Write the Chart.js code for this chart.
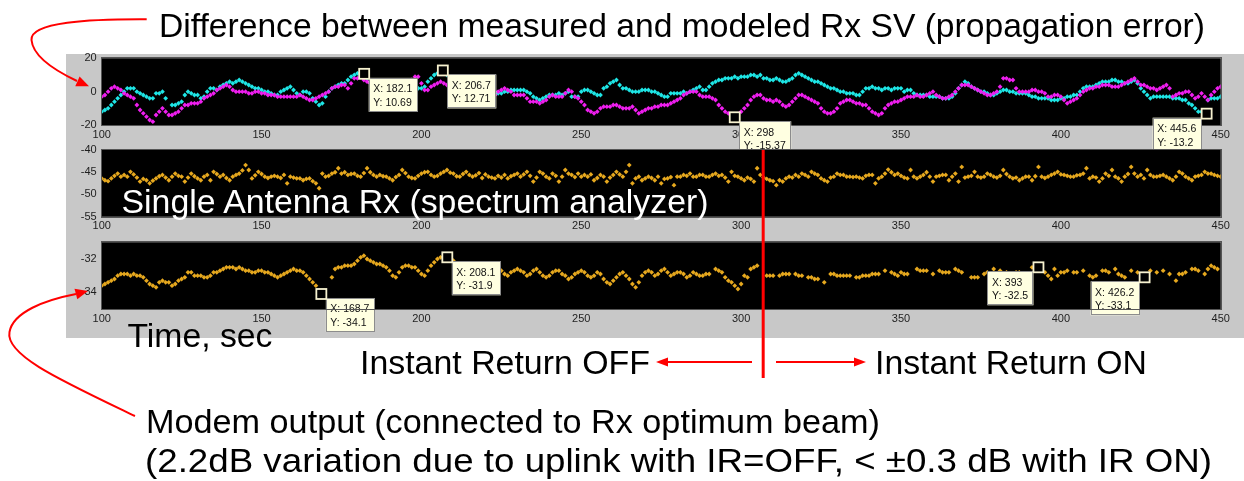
<!DOCTYPE html>
<html>
<head>
<meta charset="utf-8">
<title>Propagation error / Rx level vs time</title>
<script src="https://cdn.jsdelivr.net/npm/chart.js@4.4.0/dist/chart.umd.min.js"></script>
<style>
  html, body { margin: 0; padding: 0; background: #fff; }
  #stage { position: relative; width: 1244px; height: 481px; overflow: hidden; background: #fff; }
  #panel { position: absolute; left: 66px; top: 54px; width: 1178px; height: 284px; background: #c8c8c8; }
  #stage canvas, #stage svg { position: absolute; left: 0; top: 0; }
</style>
</head>
<body>
<div id="stage">
  <div id="panel"></div>
  <canvas id="errChart" width="1244" height="481" style="width:1244px;height:481px"></canvas>
  <canvas id="specChart" width="1244" height="481" style="width:1244px;height:481px"></canvas>
  <canvas id="modemChart" width="1244" height="481" style="width:1244px;height:481px"></canvas>
  <svg id="notes" width="1244" height="481" viewBox="0 0 1244 481">
    <g font-family="'Liberation Sans', Arial, Helvetica, sans-serif" font-size="33.5" fill="#000">
      <text x="159" y="36.7" textLength="1046" lengthAdjust="spacingAndGlyphs">Difference between measured and modeled Rx SV (propagation error)</text>
      <text x="121.5" y="212.5" fill="#fff" textLength="587" lengthAdjust="spacingAndGlyphs">Single Antenna Rx (spectrum analyzer)</text>
      <text x="127.5" y="346.5" textLength="145" lengthAdjust="spacingAndGlyphs">Time, sec</text>
      <text x="360" y="374" textLength="290" lengthAdjust="spacingAndGlyphs">Instant Return OFF</text>
      <text x="875" y="374" textLength="272" lengthAdjust="spacingAndGlyphs">Instant Return ON</text>
      <text x="146" y="433" textLength="734" lengthAdjust="spacingAndGlyphs">Modem output (connected to Rx optimum beam)</text>
      <text x="145" y="472" textLength="1067" lengthAdjust="spacingAndGlyphs">(2.2dB variation due to uplink with IR=OFF, &lt; ±0.3 dB with IR ON)</text>
    </g>
    <g stroke="#ff0000" fill="none" stroke-width="2">
      <path d="M146.7,19.3 C90,19 30,22 31.5,40 C33,58 58,72 77,81"/>
      <path d="M135,416 C60,380 5,355 9.5,332 C13,312 45,300 76,294"/>
      <line id="irLine" x1="763" y1="150" x2="763" y2="378" stroke-width="3"/>
      <line x1="752" y1="362" x2="667" y2="362"/>
      <line x1="776" y1="362" x2="855" y2="362"/>
    </g>
    <g fill="#ff0000">
      <polygon points="89,86.2 75.3,86.3 79.6,76.4"/>
      <polygon points="88,291 77.3,299.2 74.5,288.8"/>
      <polygon points="656,362 668,357.5 668,366.5"/>
      <polygon points="866,362 854,357.5 854,366.5"/>
    </g>
  </svg>
</div>
<script>
// ---- time axis -------------------------------------------------------
const timeTicks = [100, 150, 200, 250, 300, 350, 400, 450];
const T_START = 100;          // first sample, s (one sample per second)
const IR_ON_TIME = 306.9;     // Instant Return switched on, s

// ---- propagation error, dB (measured minus modeled Rx SV) --------------
const errCyan = [
  -12, -11, -10, -8, -6, -4, -2, 0, 2, 2,
  2, 0, -1, -2, -3, -4, -4, -1, -1, 0,
  -4, null, -8, -8, -7, -6, -2, 0, -1, -2,
  -2, -4, -3, 0, 2, 2, 1, 3, 4, 5,
  6, 5, 6, 7, 6, 5, 4, 3, 2, 2,
  1, 0, 0, -1, -2, -2, 0, 1, 2, 3,
  1, -1, -2, 0, 0, -1, -4, -6, -8, -7,
  -3, 0, 2, 3, 4, 5, 5, 7, 9, 10,
  11, 10, 11, 8, 6, 5, 4, 3, 2, 2,
  1, 1, 0, 0, 1, 1, 2, 2, 2, 2,
  2, 3, 6, 8, 10, 11, 12, 12, 10, 7,
  5, 4, 3, 2, 1, 0, 0, 0, 1, 0,
  0, -1, -1, 0, -1, -1, 0, 0, 1, 1,
  1, 1, 1, 0, -1, -3, -4, -5, -4, -3,
  -2, -2, -2, -1, -2, -1, 0, -3, -3, -3,
  0, 1, 1, 0, -1, -2, -2, 2, 3, 5,
  6, 7, 4, 2, 2, 1, 0, 0, 0, 1,
  1, 1, 0, 0, -1, -2, -3, -3, -1, -1,
  -1, -1, 0, -1, 0, 1, 2, 3, 1, 1,
  3, 5, 6, 7, 7, 8, 8, 8, 9, 8,
  9, 9, 9, 10, 10, 9, 10, 8, 8, 7,
  7, 8, 7, 6, 6, 7, 8, 10, 11, 10,
  9, 8, 7, 6, 6, 5, 4, 3, 2, 2,
  1, 0, 0, -1, -1, -1, -2, -2, 0, 2,
  2, 3, 2, 2, 1, 2, 2, 1, 2, 2,
  2, 0, 1, 1, -1, -2, -2, -2, -2, -3,
  -3, -3, -3, -4, -4, -4, -3, -1, 2, 4,
  6, 5, 3, 2, 1, 0, 0, -1, -2, -2,
  -1, 0, 1, 1, 0, 0, -1, -1, -1, -1,
  -2, -3, -3, -4, -4, -4, -4, -5, -5, -5,
  -4, -4, -3, -3, -2, -2, 0, 2, 3, 3,
  3, 4, 5, 6, 6, 6, 7, 7, 6, 6,
  5, 5, 6, 7, 5, 2, 0, -2, -4, -3,
  -3, -3, -3, -3, -3, -4, -4, -4, -5, -5,
  -7, -8, -10, -12, -12, -13, -5, -4, -4, -4,
  -3
];
const errMagenta = [
  -3, -2, 0, 2, 3, 2, 1, -1, -2, -3,
  -4, -8, -11, -13, -15, -17, -18, -14, -12, -10,
  -12, -14, -14, -13, -12, -10, -8, -8, -7, -7,
  -7, -6, -4, -3, -2, -1, 1, 2, 3, 4,
  3, 1, 0, 0, 0, 0, -1, -1, 0, 0,
  -1, -1, -2, -2, -2, -3, -3, -3, -3, -3,
  -3, -3, -2, -3, -4, -5, -5, -4, -3, -2,
  -1, 0, 2, 3, 3, 4, 4, 2, 5, 8,
  8, 9, 7, 6, 5, 4, 3, 2, 2, 1,
  1, 0, 0, 1, 2, 3, 5, 7, 9, 9,
  5, 1, 1, 3, 4, 5, 6, 5, 4, 3,
  2, 1, 0, -1, -1, -2, -2, -2, -1, -2,
  -2, -3, -5, -2, 0, 1, 2, 1, 0, -2,
  -2, -2, -2, -4, -6, -6, -6, -7, -6, -5,
  -3, -2, -3, -3, -3, -1, 1, 0, -3, -4,
  -6, -8, -11, -12, -13, -12, -10, -9, -9, -9,
  -8, -8, -9, -10, -10, -10, -9, -11, -13, -12,
  -11, -10, -10, -9, -9, -8, -8, -8, -7, -6,
  -5, -4, -2, -1, 0, 0, 0, -2, -3, -3,
  -3, -4, -5, -8, -10, -12, -13, -14, null, -14,
  -12, -10, -8, -5, -3, -2, -2, -4, -5, -5,
  -6, -5, -6, -8, -9, -8, -6, -4, -2, -2,
  -3, -4, -5, -6, -7, -10, -12, -13, -13, -12,
  -10, -7, -6, -5, -5, -6, -7, -7, -8, -8,
  -10, -12, -13, -14, -13, -10, -8, -7, -6, -6,
  -5, -4, -3, -3, -3, -2, -3, -3, -2, -1,
  0, -2, -3, -4, -4, -3, -2, 0, 2, 4,
  4, 4, 3, 2, 1, 0, -1, -2, -2, -1,
  0, 3, 8, 8, 7, 7, 2, 0, 0, 0,
  0, 1, 1, 0, 0, -1, -3, -3, -2, -2,
  -3, -5, -7, -6, -5, -4, -2, 0, 1, 2,
  2, 3, 3, 4, 4, 4, 3, 3, 3, 4,
  5, 6, 7, 8, 6, 4, 4, 3, 2, 2,
  1, 2, 3, 4, 2, -3, -2, -1, -1, 0,
  0, -2, -4, -3, -1, -3, -5, -2, 0, 2,
  3
];
// data tips on the error panel
const errTipX = [182.1, 206.7, 298, 445.6];
const errTipY = [10.69, 12.71, -15.37, -13.2];
const errTipSeries = ['cyan', 'cyan', 'magenta', 'cyan'];

// ---- single antenna Rx level (spectrum analyzer), dBm ---------------
const specRx = [
  -46.4, -46.8, -47.0, -46.4, -45.8, -45.3, -46.0, -45.6, -46.0, -44.9,
  -45.5, -46.2, -47.1, -46.5, -46.8, -47.5, -46.9, -46.4, -45.9, -45.6,
  -46.2, -46.8, -46.0, -45.3, -45.8, -46.0, -47.1, -46.2, -45.3, -45.9,
  -46.4, -46.8, -46.0, -45.6, -46.8, -44.9, -45.4, -46.0, -45.6, -46.3,
  -46.8, -46.0, -45.6, -45.3, -44.6, -43.4, -44.5, -46.4, -45.7, -44.9,
  -45.4, -46.0, -46.3, -46.0, -45.8, -46.0, -46.3, -45.6, -47.5, -46.0,
  -46.2, -46.4, -46.4, -46.8, -46.5, -46.4, -47.0, -47.5, -48.6, -45.3,
  -46.0, -45.8, -45.3, -45.0, -44.1, -45.3, -45.0, -45.6, -45.4, -45.3,
  -45.8, -46.0, -45.2, -44.1, -45.0, -45.6, -46.0, -45.6, -45.9, -46.0,
  -46.4, -46.8, -46.1, -45.6, -44.5, -45.2, -46.0, -46.3, -46.4, -45.8,
  -45.3, -45.0, -44.9, -45.6, -46.0, -45.8, -45.3, -44.9, -44.5, -45.1,
  -45.3, -45.9, -46.0, -45.4, -44.9, -45.6, -46.0, -45.7, -45.2, -46.3,
  -45.5, -46.0, -46.2, -46.4, -45.8, -46.2, -45.6, -46.4, -45.9, -45.6,
  -45.3, -46.0, -45.5, -44.9, -45.8, -47.1, -46.2, -44.9, -45.3, -46.0,
  -46.4, -45.3, -45.8, -47.1, -46.0, -44.5, -45.3, -45.6, -46.1, -45.3,
  -46.0, -45.6, -46.0, -45.5, -46.8, -46.3, -45.6, -46.0, -47.1, -46.2,
  -45.6, -44.9, -45.5, -46.0, -44.9, -43.4, -47.5, -46.4, -46.0, -46.8,
  -46.4, -46.0, -46.3, -46.8, -46.0, -47.5, -46.5, -46.4, -46.1, -47.9,
  -46.0, -46.0, -45.6, -45.8, -45.3, -46.0, -46.0, -45.6, -45.6, -46.0,
  -46.0, -45.6, -45.3, -45.8, -45.6, -46.2, -47.1, -44.9, -45.8, -46.0,
  -46.4, -46.8, -46.2, -46.5, -47.1, -44.1, -45.6, -46.2, -46.5, -46.8,
  -47.0, -47.9, -46.8, -47.1, -46.4, -46.0, -46.2, -45.6, -46.0, -45.3,
  -45.6, -46.0, -44.9, -45.3, -45.6, -46.4, -46.8, -47.1, -46.2, -46.0,
  -45.3, -45.6, -45.6, -46.0, -46.0, -46.1, -46.0, -46.2, -46.4, -45.8,
  -45.6, -45.6, -47.5, -46.4, -46.0, -45.3, -44.4, -45.0, -45.6, -45.3,
  -45.8, -46.2, -46.4, -44.5, -46.0, -46.4, -46.0, -45.6, -45.0, -46.0,
  -47.1, -46.0, -45.8, -45.6, -45.6, -46.8, -46.0, -45.3, -47.1, -43.8,
  -46.2, -46.0, -45.8, -44.9, -46.0, -46.2, -46.0, -45.3, -45.6, -46.0,
  -46.2, -45.8, -44.5, -45.4, -46.0, -46.4, -46.2, -46.8, -46.4, -46.0,
  -46.0, -46.8, -45.9, -43.8, -46.0, -46.3, -46.0, -45.6, -45.3, -44.9,
  -45.5, -45.6, -45.8, -46.0, -46.0, -45.7, -45.6, -45.3, -44.1, -46.4,
  -46.0, -46.2, -47.1, -46.4, -45.3, -45.8, -44.5, -46.0, -46.4, -47.1,
  -46.0, -45.4, -43.8, -45.3, -46.0, -45.6, -46.4, -44.5, -45.6, -46.0,
  -46.0, -45.8, -45.6, -46.0, -46.4, -46.8, -46.0, -44.9, -45.3, -46.0,
  -46.4, -46.8, -46.0, -45.8, -45.6, -44.9, -45.3, -45.3, -45.6, -45.8,
  -46.0
];

// ---- modem output Rx level, dB ---------------------------------------
const modemRx = [
  -33.6, -33.5, -33.4, -33.3, -33.2, -33.0, -32.9, -32.9, -32.9, -33.0,
  -32.9, -33.0, -33.0, -33.1, -33.3, -33.5, -33.6, -33.7, -33.4, -33.3,
  -33.4, -33.4, -33.6, -33.5, -33.3, -33.2, -33.1, -32.8, -32.8, -33.0,
  -33.0, -33.0, -33.1, -33.1, -33.0, -32.8, -32.8, -32.7, -32.6, -32.5,
  -32.5, -32.5, -32.6, -32.5, -32.6, -32.7, -32.7, -32.8, -32.8, -32.7,
  -32.7, -32.8, -32.8, -32.9, -33.0, -33.1, -33.0, -32.9, -32.8, -32.7,
  -32.6, -32.7, -32.7, -32.8, -33.0, -33.2, -33.4, -33.6, -33.9, null,
  null, null, -33.1, -32.6, -32.5, -32.5, -32.4, -32.4, -32.4, -32.3,
  -32.1, -31.9, -31.8, -32.0, -32.1, -32.2, -32.3, -32.3, -32.4, -32.5,
  -32.7, -33.0, -33.1, -32.8, -32.5, -32.4, -32.4, -32.5, -32.5, -32.7,
  -32.9, -33.0, -32.7, -32.4, -32.2, -32.0, -31.9, -31.9, null, -32.0,
  -32.1, -32.3, -32.5, -32.6, -32.7, -32.8, -32.8, -32.7, -32.9, -33.0,
  -32.9, -32.8, -32.7, -32.6, -32.6, -32.7, -32.9, -33.0, -32.8, -32.7,
  -32.6, -32.7, -32.8, -33.0, -32.9, -32.7, -32.6, -32.8, -33.0, -33.1,
  -33.0, -32.8, -32.7, -32.7, -32.9, -33.0, -33.2, -33.1, -32.9, -32.8,
  -32.7, -32.8, -33.0, -33.1, -33.0, -32.8, -32.9, -33.2, -33.4, -33.5,
  -33.3, -33.1, -32.9, -32.8, -33.0, -33.2, -33.5, -33.7, -33.4, -33.0,
  -32.8, -32.7, -32.8, -33.0, -32.9, -32.7, -32.6, -32.8, -33.0, -32.9,
  -32.8, -32.8, -32.9, -33.1, -33.0, -32.8, -32.9, -33.0, -33.0, -32.9,
  -32.9, null, -32.6, -32.7, -32.8, -33.1, -33.3, -33.4, -33.6, -33.8,
  -33.5, -33.0, -33.1, -32.6, -32.5, -32.4, null, null, -33.0, -33.0,
  -33.0, null, -33.0, -32.9, -32.9, -32.9, null, -32.9, -33.0, -33.0,
  null, -33.1, -33.1, -33.2, -33.2, null, -33.4, null, -32.9, -32.9,
  -33.0, -33.0, -33.0, -33.0, -33.0, null, -33.1, -33.1, -33.0, -33.0,
  -33.0, -32.9, -32.9, -32.9, null, -32.7, null, -32.8, -32.9, -33.0,
  -32.8, -32.9, -32.9, null, null, -32.6, -32.7, -32.7, -32.7, null,
  -32.9, null, -32.7, -32.8, -32.8, -32.8, null, -32.6, -32.7, -32.8,
  null, null, -33.1, -33.1, -33.1, null, -32.9, -32.8, null, -32.6,
  null, -32.7, null, -32.8, null, null, -32.8, -32.8, -32.9, null,
  null, -32.5, null, null, -32.6, -32.8, -33.0, -33.2, -32.6, -33.0,
  -32.8, -32.8, -32.7, null, -32.8, -32.8, null, -32.7, null, -33.0,
  -33.1, -33.0, null, -32.7, -32.7, -32.8, null, -32.6, -32.9, -33.0,
  -33.1, null, -32.7, null, -32.8, null, -33.0, null, -32.7, null,
  -32.8, null, -32.7, null, -32.9, null, -33.3, -32.9, -32.9, -32.8,
  null, -32.6, -32.6, -32.7, null, -32.9, -32.6, -32.4, -32.5, -32.6,
  null
];
// data tips on the modem panel
const modemTipX = [168.7, 208.1, 393, 426.2];
const modemTipY = [-34.1, -31.9, -32.5, -33.1];

// ---- layout of the three axes (page pixels) ---------------------------
const FONT = '"Liberation Sans", Arial, Helvetica, sans-serif';
const PAGE_W = 1244, PAGE_H = 481;
const PLOT_LEFT = 101.7, PLOT_RIGHT = 1220.7;
const Y_AXIS_W = 40, X_AXIS_H = 20;

Chart.defaults.font.family = FONT;

function toPoints(values, extraX, extraY) {
  const pts = [];
  values.forEach((v, i) => { if (v !== null) pts.push({ x: T_START + i, y: v }); });
  (extraX || []).forEach((x, k) => pts.push({ x: x, y: extraY[k] }));
  pts.sort((a, b) => a.x - b.x);
  return pts;
}
function pick(list, names, want) {
  const xs = [], ys = [];
  names.forEach((n, k) => { if (n === want) { xs.push(list[0][k]); ys.push(list[1][k]); } });
  return [xs, ys];
}

// black plot box, frame and MATLAB-style data tips
const plotBox = {
  id: 'plotBox',
  beforeDraw(chart) {
    const { ctx, chartArea: a } = chart;
    ctx.save();
    ctx.fillStyle = '#000';
    ctx.fillRect(a.left, a.top, a.right - a.left, a.bottom - a.top);
    ctx.restore();
  },
  afterDraw(chart, args, opts) {
    const { ctx, chartArea: a, scales } = chart;
    const frame = () => {
      ctx.save();
      ctx.strokeStyle = '#555';
      ctx.lineWidth = 1;
      ctx.strokeRect(Math.round(a.left) - 0.5, Math.round(a.top) - 0.5,
                     Math.round(a.right - a.left) + 1, Math.round(a.bottom - a.top) + 1);
      ctx.restore();
    };
    if (!opts.frameOnTop) frame();
    const xs = opts.tipX || [], ys = opts.tipY || [], sides = opts.tipSide || [];
    ctx.save();
    ctx.font = '10.5px ' + FONT;
    ctx.textAlign = 'left';
    ctx.textBaseline = 'alphabetic';
    xs.forEach((tx, k) => {
      const ty = ys[k];
      const px = scales.x.getPixelForValue(tx);
      const py = scales.y.getPixelForValue(ty);
      const l1 = 'X: ' + tx, l2 = 'Y: ' + ty;
      const w = Math.ceil(Math.max(ctx.measureText(l1).width, ctx.measureText(l2).width)) + 9;
      const h = 34;
      const bx = sides[k] === 'sw' ? px - 5 - w : px + 4.5;
      const by = py + 4;
      ctx.fillStyle = '#ffffe1';
      ctx.fillRect(bx, by, w, h);
      ctx.strokeStyle = '#8c8c8c';
      ctx.lineWidth = 1;
      ctx.strokeRect(Math.round(bx) + 0.5, Math.round(by) + 0.5, w - 1, h - 1);
      ctx.fillStyle = '#111';
      ctx.fillText(l1, bx + 4.5, by + 14.5);
      ctx.fillText(l2, bx + 4.5, by + 28);
      // square marker on the picked sample
      ctx.fillStyle = '#000';
      ctx.fillRect(px - 5, py - 5, 10, 10);
      ctx.strokeStyle = '#f6f1cf';
      ctx.lineWidth = 1.8;
      ctx.strokeRect(px - 5, py - 5, 10, 10);
    });
    ctx.restore();
    if (opts.frameOnTop) frame();
  }
};

function dots(points, color) {
  return {
    data: points,
    showLine: false,
    pointStyle: 'rectRot',
    pointRadius: 2.4,
    pointBorderWidth: 0,
    pointBackgroundColor: color,
    pointBorderColor: color
  };
}

function makePanel(id, datasets, yMin, yMax, yTicks, plotTop, plotBottom, boxOpts) {
  return new Chart(document.getElementById(id), {
    type: 'scatter',
    data: { datasets: datasets },
    options: {
      responsive: false,
      animation: false,
      events: [],
      layout: {
        padding: {
          left: PLOT_LEFT - Y_AXIS_W,
          right: PAGE_W - PLOT_RIGHT,
          top: plotTop,
          bottom: PAGE_H - plotBottom - X_AXIS_H
        }
      },
      plugins: { legend: { display: false }, tooltip: { enabled: false }, plotBox: boxOpts },
      scales: {
        x: {
          type: 'linear', min: timeTicks[0], max: timeTicks[timeTicks.length - 1],
          afterBuildTicks: s => { s.ticks = timeTicks.map(v => ({ value: v })); },
          afterFit: s => { s.height = X_AXIS_H; },
          grid: { display: false, drawTicks: false },
          border: { display: false },
          ticks: { padding: 3, color: '#1e1e1e', font: { size: 11 }, maxRotation: 0, autoSkip: false,
                   callback: v => String(v) }
        },
        y: {
          type: 'linear', min: yMin, max: yMax,
          afterBuildTicks: s => { s.ticks = yTicks.map(v => ({ value: v })); },
          afterFit: s => { s.width = Y_AXIS_W; },
          grid: { display: false, drawTicks: false },
          border: { display: false },
          ticks: { padding: 5, color: '#1e1e1e', font: { size: 11 }, autoSkip: false,
                   callback: v => String(v) }
        }
      }
    },
    plugins: [plotBox]
  });
}

const tipsCyan = pick([errTipX, errTipY], errTipSeries, 'cyan');
const tipsMagenta = pick([errTipX, errTipY], errTipSeries, 'magenta');

makePanel('errChart', [
  dots(toPoints(errMagenta, tipsMagenta[0], tipsMagenta[1]), '#f01ef0'),
  dots(toPoints(errCyan, tipsCyan[0], tipsCyan[1]), '#1ee6e6')
], -20, 20, [-20, 0, 20], 58.3, 125, {
  tipX: errTipX, tipY: errTipY, tipSide: ['se', 'se', 'se', 'sw'], frameOnTop: false
});

makePanel('specChart', [
  dots(toPoints(specRx), '#e6a81e')
], -55, -40, [-55, -50, -45, -40], 150, 216.7, { frameOnTop: false });

const modemChart = makePanel('modemChart', [
  dots(toPoints(modemRx, modemTipX, modemTipY), '#e6a81e')
], -35, -31, [-34, -32], 242.3, 309, {
  tipX: modemTipX, tipY: modemTipY, tipSide: ['se', 'se', 'sw', 'sw'], frameOnTop: true
});

// place the Instant Return switch-over marker on the time axis
const irX = modemChart.scales.x.getPixelForValue(IR_ON_TIME);
const irLine = document.getElementById('irLine');
irLine.setAttribute('x1', irX);
irLine.setAttribute('x2', irX);
</script>
</body>
</html>
